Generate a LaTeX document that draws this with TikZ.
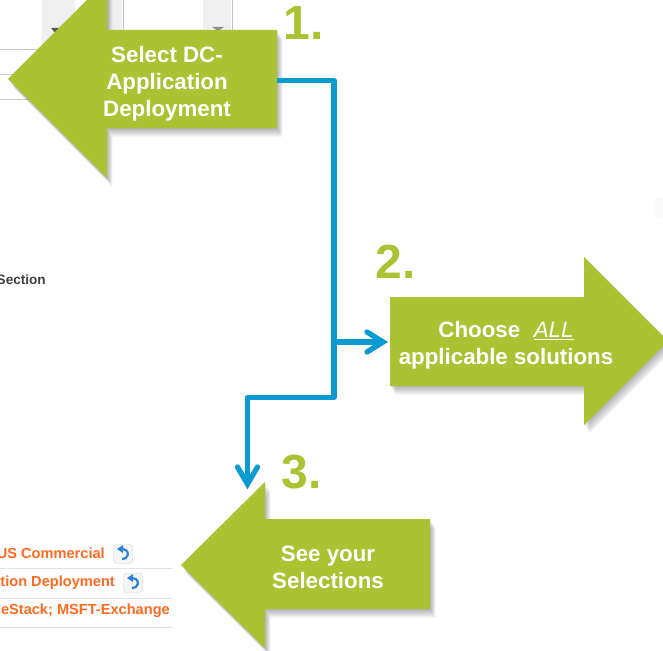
\documentclass[tikz,border=0pt]{standalone}
\usepackage{fontspec}
\setmainfont{Liberation Sans}
\definecolor{lime}{HTML}{ABC232}
\definecolor{linkblue}{HTML}{0A9BD2}
\definecolor{uigrey}{HTML}{F0F0F0}
\definecolor{rulegrey}{HTML}{E2E2E2}
\definecolor{linkorange}{HTML}{FF6A1F}
\definecolor{iconblue}{HTML}{2F7FD8}
\tikzset{
  greenarrow/.style={fill=lime,draw=none},
  shadowlayer/.style={fill=black,fill opacity=.04,draw=none},
  arrowtext/.style={text=white,font=\bfseries\fontsize{22.3}{27}\selectfont,align=center,inner sep=0pt},
  numeral/.style={text=lime,font=\bfseries\fontsize{48}{48}\selectfont,inner sep=0pt},
  flow/.style={draw=linkblue,line width=5.3pt,line join=round},
  flowtip/.style={draw=linkblue,line width=5.3pt,line cap=round,line join=miter},
  flowshadow/.style={draw=black,draw opacity=.06,line width=5.5pt,line join=round},
  uirule/.style={draw=rulegrey,line width=1pt},
  uitext/.style={text=linkorange,font=\bfseries\fontsize{14.6}{16}\selectfont,inner sep=0pt,anchor=east},
  iconbox/.style={draw=black!18,fill=black!4,rounded corners=3pt,minimum size=19pt,inner sep=0pt},
}
\newcommand{\softshadow}[1]{%
  \foreach \d in {1,2,...,8}{\path[shadowlayer,shift={(\d*0.7,\d*1.1)}] #1;}}
\begin{document}
\begin{tikzpicture}[x=1pt,y=-1pt]
\useasboundingbox (0,0) rectangle (663,650);
\clip (0,0) rectangle (663,650);
\fill[white] (0,0) rectangle (663,650);
% background screenshot pieces, top left
\fill[uigrey] (42,0) rectangle (75,48);
\fill[uigrey] (203,0) rectangle (231,30);
\fill[uigrey] (107,0) rectangle (122,30);
\fill[black!65] (51,28) -- (61,28) -- (56,34) -- cycle;
\fill[black!45] (212,27) -- (224,27) -- (218,31) -- cycle;
\draw[draw=black!20,line width=1pt] (0,49.5) -- (42,49.5);
\draw[draw=black!20,line width=1pt] (0,74.5) -- (20,74.5);
\draw[draw=black!20,line width=1pt] (0,99.5) -- (32,99.5);
\draw[draw=black!25,line width=1pt] (123.5,0) -- (123.5,30);
\draw[draw=black!25,line width=1pt] (232,0) -- (232,30);
\fill[black!2] (655,197) rectangle (663,217);
% screenshot text
\node[font=\bfseries\fontsize{13.6}{15}\selectfont,text=black!75,inner sep=0pt,anchor=east] (sec) at (46,280) {Section};
\node[uitext] (l1) at (105,553.5) {US Commercial};
\node[uitext] (l2) at (115,582.5) {tion Deployment};
\node[uitext] (l3) at (170,611) {eStack; MSFT-Exchange};
\draw[uirule] (0,568.5) -- (172,568.5);
\draw[uirule] (0,598) -- (172,598);
\draw[uirule] (0,627) -- (172,627);
\node[iconbox] (i1) at (123,554) {};
\node[iconbox] (i2) at (133,583) {};
\foreach \n in {i1,i2}{
  \draw[iconblue,line width=2.2pt] ([shift={(-1,5)}]\n.center) arc[start angle=-100,end angle=90,radius=5pt];
  \fill[iconblue] ([shift={(-6,-5)}]\n.center) -- ([shift={(0,-9)}]\n.center) -- ([shift={(0,-1)}]\n.center) -- cycle;
}
% shadows and arrows
\def\shapeA{(8,79) -- (107,-20) -- (107,30) -- (277,30) -- (277,128) -- (107,128) -- (107,178) -- cycle}
\def\shapeB{(390,297) -- (584,297) -- (584,257) -- (668,341) -- (584,425) -- (584,386) -- (390,386) -- cycle}
\def\shapeC{(181,565) -- (265,482) -- (265,519) -- (430,519) -- (430,609) -- (265,609) -- (265,648) -- cycle}
\softshadow{\shapeA}
\softshadow{\shapeB}
\softshadow{\shapeC}
\path[greenarrow] \shapeA;
\path[greenarrow] \shapeB;
\path[greenarrow] \shapeC;
% labels
\node[arrowtext,minimum width=220pt] (a1) at (167,84) {Select DC-\\Application\\Deployment};
\node[arrowtext,minimum width=232pt] (a2) at (506,345.5) {Choose\,\, {\mdseries\itshape\underline{ALL}}\\applicable solutions};
\node[arrowtext] (a3) at (328,567.5) {See your\\Selections};
\node[numeral] (n1) at (304,23) {1.};
\node[numeral] (n2) at (396,261.5) {2.};
\node[numeral] (n3) at (302,472.5) {3.};
% connectors
\coordinate (c1) at (334,80.5);
\coordinate (c0) at (a1.east |- c1);
\coordinate (c2) at (334,397.5);
\coordinate (c3) at (247.5,397.5);
\coordinate (c4) at (247.5,484);
\coordinate (c5) at (334,342);
\coordinate (c6) at (383,342);
\draw[flowshadow,shift={(1.5,3)}] (c0) -- (c1) -- (c2) -- (c3) -- (c4);
\draw[flowshadow,shift={(1.5,3)}] (c5) -- (c6);
\draw[flow] (c0) -- (c1) -- (c2) -- (c3) -- (c4);
\draw[flow] (c5) -- (c6);
\draw[flowtip] ([shift={(-16,-10)}]c6) -- (c6) -- ([shift={(-16,10)}]c6);
\draw[flowtip] ([shift={(-10,-17)}]c4) -- (c4) -- ([shift={(10,-17)}]c4);
\end{tikzpicture}
\end{document}
